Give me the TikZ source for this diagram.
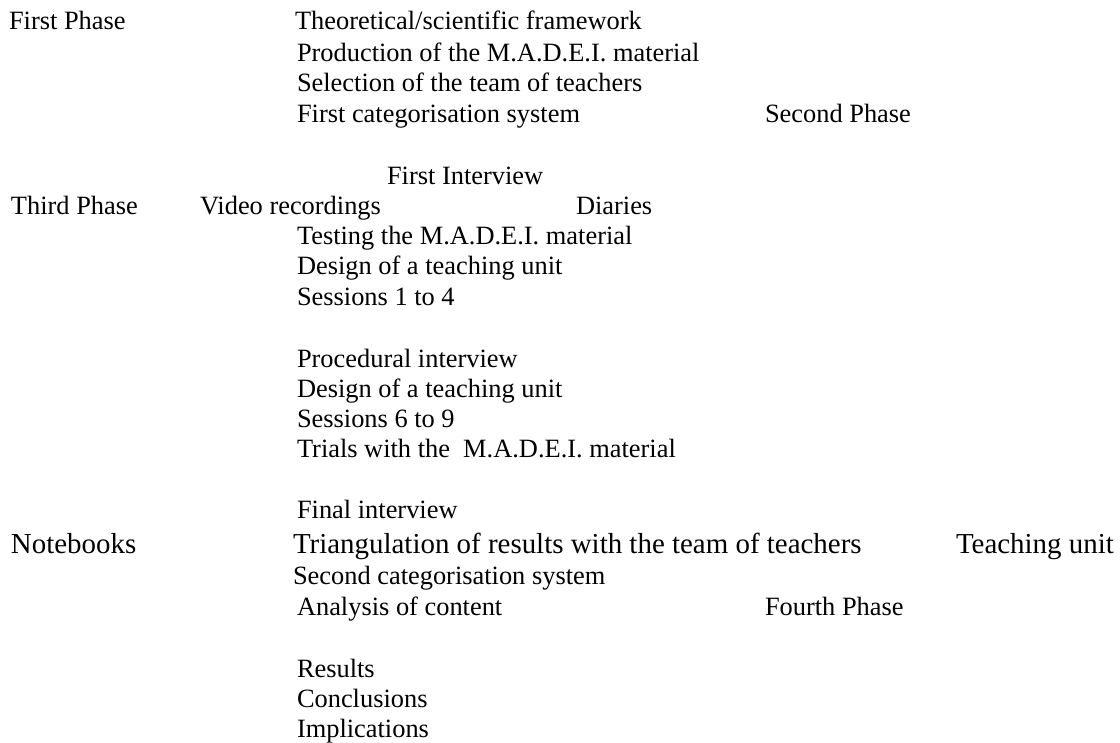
\documentclass[tikz,border=0pt]{standalone}
\usepackage{fontspec}
\setmainfont{Liberation Serif}
\begin{document}
\begin{tikzpicture}[x=0.75pt,y=-0.75pt,
  lbl/.style={anchor=base west,inner sep=0pt,outer sep=0pt,font=\fontsize{19.8pt}{24pt}\selectfont},
  big/.style={lbl,font=\fontsize{21.7pt}{26pt}\selectfont}]
\useasboundingbox (0,0) rectangle (1120,742);
% First phase
\node[lbl] (p1) at (9,30) {First Phase};
\node[lbl] (a1) at (295,30) {Theoretical/scientific framework};
\node[lbl] (a2) at (297,61) {Production of the M.A.D.E.I. material};
\node[lbl] (a3) at (297,91) {Selection of the team of teachers};
\node[lbl] (a4) at (297,122) {First categorisation system};
\node[lbl] (p2) at (765,122) {Second Phase};
% Second / third phase
\node[lbl] (b1) at (387,184) {First Interview};
\node[lbl] (p3) at (11,214) {Third Phase};
\node[lbl] (b2) at (200,214) {Video recordings};
\node[lbl] (b3) at (576,214) {Diaries};
\node[lbl] (c1) at (297,244) {Testing the M.A.D.E.I. material};
\node[lbl] (c2) at (297,274) {Design of a teaching unit};
\node[lbl] (c3) at (297,305) {Sessions 1 to 4};
\node[lbl] (d1) at (297,367) {Procedural interview};
\node[lbl] (d2) at (297,397) {Design of a teaching unit};
\node[lbl] (d3) at (297,427) {Sessions 6 to 9};
\node[lbl] (d4) at (297,457) {Trials with the~ M.A.D.E.I. material};
\node[lbl] (e1) at (297,518) {Final interview};
\node[big] (e2) at (11,553) {Notebooks};
\node[big] (e3) at (293,553) {Triangulation of results with the team of teachers};
\node[big] (e4) at (956,553) {Teaching unit};
\node[lbl] (f1) at (293,584) {Second categorisation system};
\node[lbl] (f2) at (297,615) {Analysis of content};
\node[lbl] (p4) at (765,615) {Fourth Phase};
\node[lbl] (g1) at (297,677) {Results};
\node[lbl] (g2) at (297,707) {Conclusions};
\node[lbl] (g3) at (297,737) {Implications};
\end{tikzpicture}
\end{document}
